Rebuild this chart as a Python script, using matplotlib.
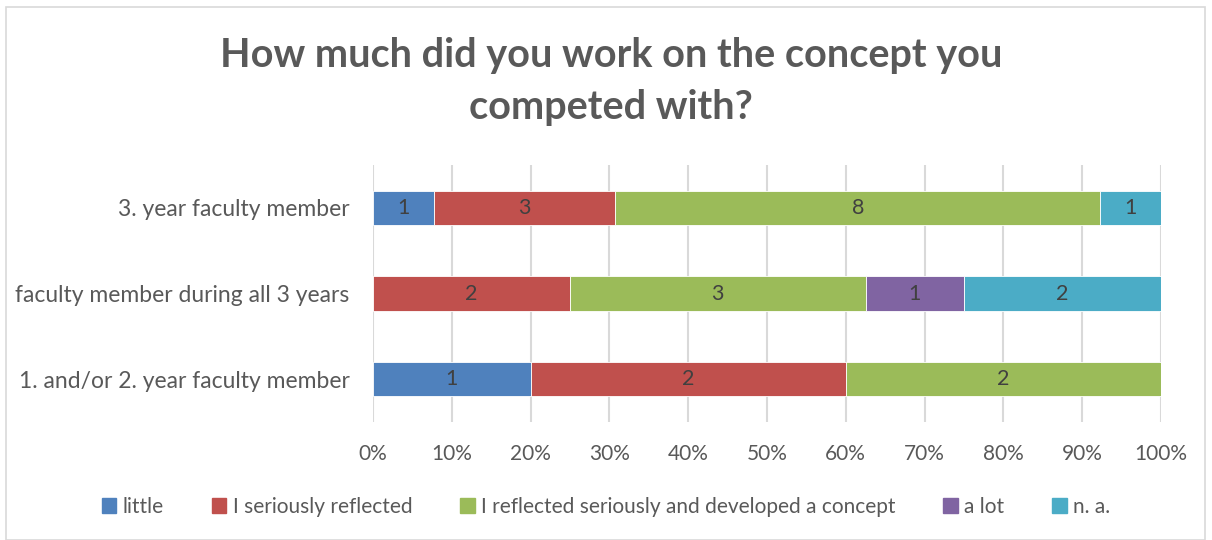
import matplotlib
matplotlib.use("Agg")
import matplotlib.pyplot as plt
from matplotlib.patches import Rectangle, Patch
import numpy as np

plt.rcParams['font.family'] = ['Lato', 'DejaVu Sans']

categories = ["1. and/or 2. year faculty member",
              "faculty member during all 3 years",
              "3. year faculty member"]
series_names = ["little", "I seriously reflected",
                "I reflected seriously and developed a concept", "a lot", "n. a."]
little = [1, 0, 1]
seriously = [2, 2, 3]
developed = [2, 3, 8]
a_lot = [0, 1, 0]
na = [0, 2, 1]
colors = ["#4F81BD", "#C0504D", "#9BBB59", "#8064A2", "#4BACC6"]
ticks = [0, 10, 20, 30, 40, 50, 60, 70, 80, 90, 100]

data = np.array([little, seriously, developed, a_lot, na], dtype=float)
totals = data.sum(axis=0)
pct = data / totals * 100

fig = plt.figure(figsize=(12.12, 5.4), dpi=100)
fig.patches.append(Rectangle((6/1212, 0), 1199/1212, 1 - 7/540, transform=fig.transFigure,
                             fill=False, edgecolor="#D9D9D9", linewidth=1.2))
ax = fig.add_axes([373/1212, 1 - 422/540, (1161 - 373)/1212, (422 - 165)/540])

y = np.arange(len(categories))
left = np.zeros(len(categories))
for i in range(len(series_names)):
    ax.barh(y, pct[i], left=left, height=0.4, color=colors[i],
            edgecolor="white", linewidth=0.6, label=series_names[i], zorder=3)
    for j in range(len(categories)):
        if data[i, j] > 0:
            ax.text(left[j] + pct[i, j] / 2, y[j], f"{int(data[i, j])}",
                    ha="center", va="center", fontsize=15.5, color="#404040", zorder=4)
    left += pct[i]

ax.set_xlim(0, 100)
ax.set_ylim(-0.5, 2.5)
ax.set_xticks(ticks)
ax.set_xticklabels([f"{t}%" for t in ticks])
ax.set_yticks(y)
ax.set_yticklabels(categories)
ax.tick_params(axis="both", length=0, labelcolor="#595959")
ax.tick_params(axis="x", pad=16, labelsize=15)
ax.tick_params(axis="y", pad=17, labelsize=16.5)
ax.grid(axis="x", color="#D9D9D9", linewidth=1.5, zorder=0)
for s in ax.spines.values():
    s.set_visible(False)

fig.text(611/1212, 1 - 81/540, "How much did you work on the concept you\ncompeted with?",
         ha="center", va="center", fontsize=28.5, fontweight="bold", color="#595959",
         linespacing=1.5)

handles = [Patch(facecolor=c, edgecolor=c) for c in colors]
fig.legend(handles, series_names, loc="center", bbox_to_anchor=(0.5, 1 - 507/540),
           ncol=5, frameon=False, fontsize=15, labelcolor="#595959",
           handlelength=0.7, handleheight=0.7, handletextpad=0.3, columnspacing=2.3)

fig.savefig("out.png", dpi=100)
